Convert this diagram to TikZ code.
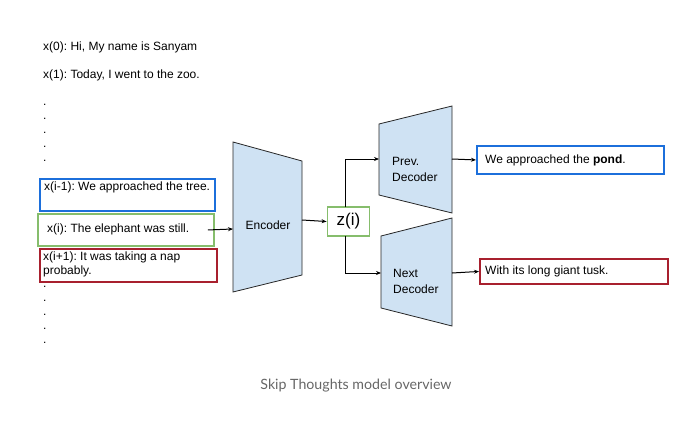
\documentclass[tikz,border=0pt]{standalone}
\usepackage{fontspec}
\setmainfont{Liberation Sans}
\newfontfamily\capfont{Lato}
\usetikzlibrary{arrows.meta}
\frenchspacing
\definecolor{trapfill}{HTML}{CFE2F3}
\definecolor{boxblue}{HTML}{1C6FDB}
\definecolor{boxgreen}{HTML}{86BD6C}
\definecolor{boxred}{HTML}{A8202E}
\definecolor{capgray}{HTML}{666666}
\tikzset{
  txt/.style={font=\fontsize{12}{14}\selectfont, inner sep=0pt, anchor=west, text=black},
  dots/.style={txt},
  bluebox/.style={draw=boxblue, line width=1.9pt, inner sep=0pt, anchor=north west},
  greenbox/.style={draw=boxgreen, line width=1.9pt, inner sep=0pt, anchor=north west},
  redbox/.style={draw=boxred, line width=1.9pt, inner sep=0pt, anchor=north west},
  trap/.style={fill=trapfill, draw=black!85, line width=0.8pt},
  conn/.style={draw=black, line width=1pt, -{Stealth[length=5pt,width=4pt]}},
}
\begin{document}
\begin{tikzpicture}[x=1pt,y=-1pt]
\frenchspacing
\useasboundingbox (0,0) rectangle (675,431);
% left column
\node[txt] (x0) at (43,47) {x(0): Hi, My name is Sanyam};
\node[txt] (x1) at (43,75) {x(1): Today, I went to the zoo.};
\foreach \yy [count=\k] in {105,119,133,147,161} {\node[dots] (da\k) at (43,\yy) {.};}
\node[bluebox, minimum width=175pt, minimum height=32pt] (bxim1) at (39,178) {};
\node[txt] (xim1) at (44,187) {x(i-1): We approached the tree.};
\node[greenbox, minimum width=176pt, minimum height=32pt] (bxi) at (37,213) {};
\node[txt] (xi) at (47,229) {x(i): The elephant was still.};
\node[redbox, minimum width=177pt, minimum height=33pt] (bxip1) at (39,248) {};
\node[txt, align=left, anchor=north west] (xip1) at (43,251.5) {x(i+1): It was taking a nap\\probably.};
\foreach \yy [count=\k] in {287,301,315,329,343} {\node[dots] (db\k) at (43,\yy) {.};}
% encoder
\path[trap] (233,142) -- (302,161) -- (302,275) -- (233,292) -- cycle;
\coordinate (encin) at (233,229);
\coordinate (encout) at (302,220);
\node[txt, anchor=center] (enc) at (268,225) {Encoder};
% z(i)
\node[greenbox, anchor=center, minimum width=42pt, minimum height=29pt, font=\fontsize{17}{20}\selectfont] (z) at (348.5,221.5) {z(i)};
% decoders
\path[trap] (379,124) -- (452,106) -- (452,213) -- (379,195) -- cycle;
\path[trap] (381,236) -- (452,218) -- (452,326) -- (381,308) -- cycle;
\coordinate (previn) at (379,159);
\coordinate (nextin) at (381,273);
\coordinate (prevout) at (452,159);
\coordinate (nextout) at (452,273);
\node[txt, align=left, anchor=west, font=\fontsize{12}{16}\selectfont] (prev) at (392,169.5) {Prev.\\Decoder};
\node[txt, align=left, anchor=west, font=\fontsize{12}{16}\selectfont] (next) at (393,281) {Next\\Decoder};
% outputs
\node[bluebox, minimum width=187pt, minimum height=28pt] (bout1) at (476,145) {};
\node[txt] (out1) at (485,160) {We approached the \textbf{pond}.};
\node[redbox, minimum width=188pt, minimum height=25pt] (bout2) at (479,258) {};
\node[txt] (out2) at (485,271) {With its long giant tusk.};
% connectors
\draw[conn] ([xshift=-7pt]bxi.east) -- (encin);
\draw[conn] (encout) -- (z.west);
\draw[conn] ([xshift=-3pt,yshift=-1pt]z.north) |- (previn);
\draw[conn] ([xshift=-3pt,yshift=1pt]z.south) |- (nextin);
\draw[conn] (prevout) -- (bout1.west);
\draw[conn] (nextout) -- (bout2.west);
% caption
\node[font=\capfont\fontsize{14.2}{17}\selectfont, text=capgray, inner sep=0pt] (cap) at (356,386) {Skip Thoughts model overview};
\end{tikzpicture}
\end{document}
